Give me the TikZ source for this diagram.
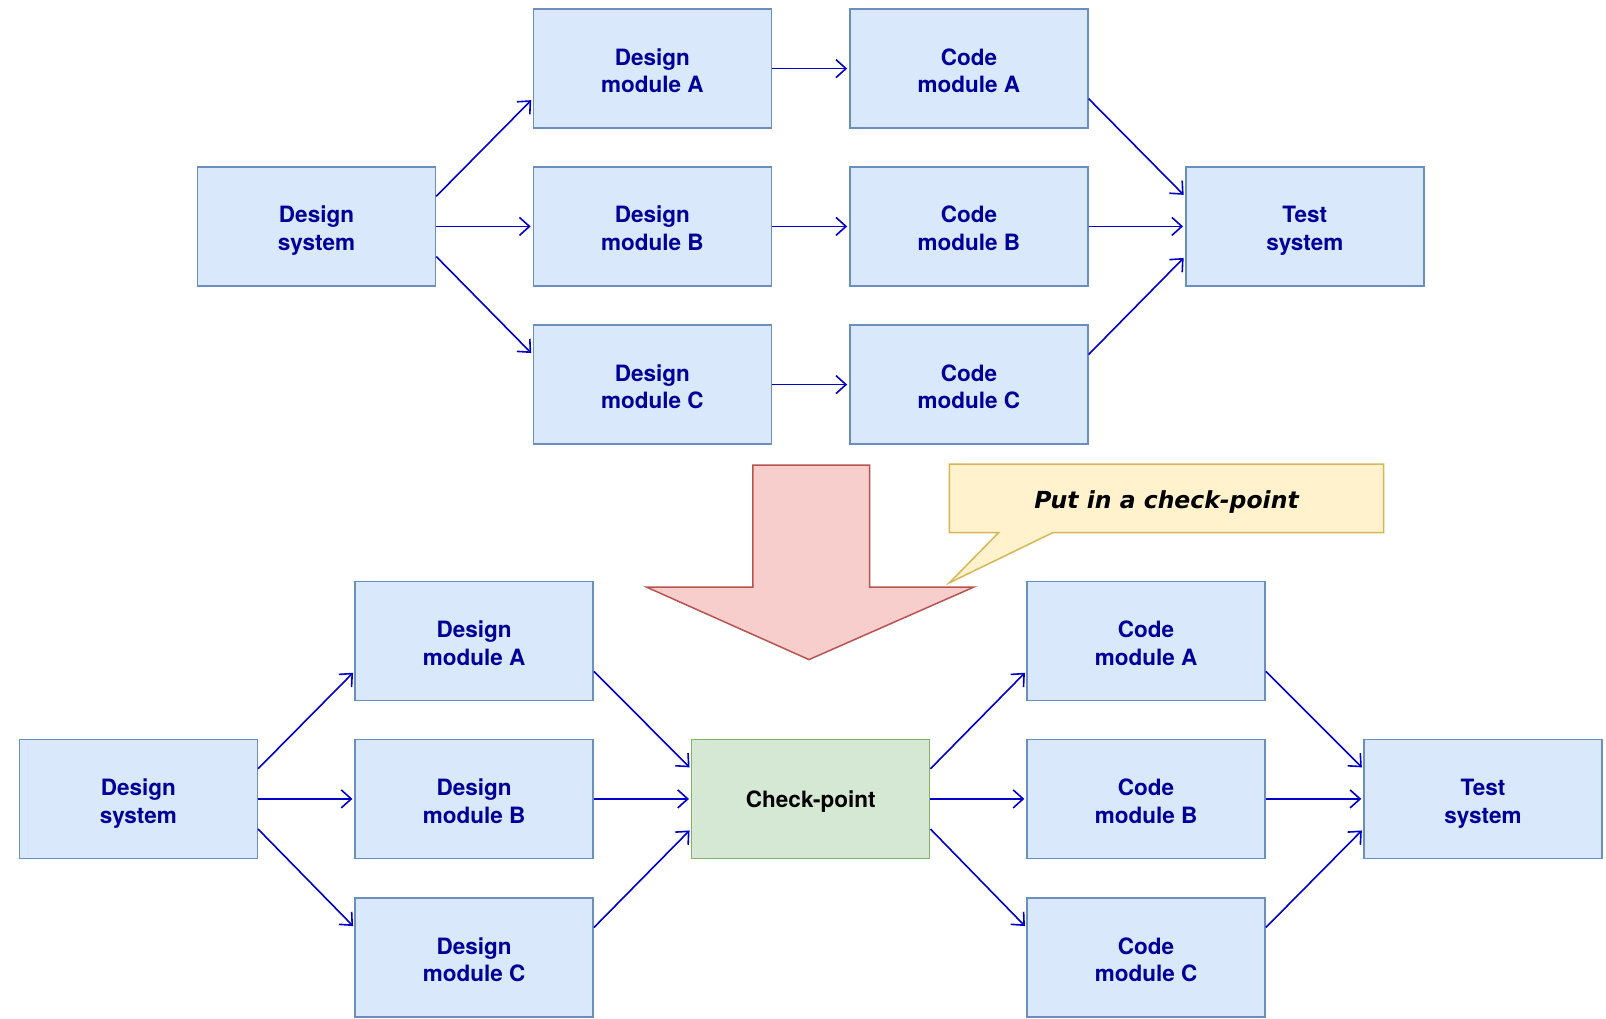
\documentclass[tikz,border=0pt]{standalone}
\usepackage{fontspec}
\setmainfont{TeX Gyre Heros}
\newfontfamily\notefont{DejaVu Sans}
\usetikzlibrary{arrows.meta,calc}
\definecolor{boxfill}{HTML}{DAE8FC}
\definecolor{boxline}{HTML}{6C8EBF}
\definecolor{boxtext}{HTML}{000099}
\definecolor{linkcol}{HTML}{0000CC}
\definecolor{cpfill}{HTML}{D5E8D4}
\definecolor{cpline}{HTML}{82B366}
\definecolor{bigfill}{HTML}{F8CECC}
\definecolor{bigline}{HTML}{B85450}
\definecolor{notefill}{HTML}{FFF2CC}
\definecolor{noteline}{HTML}{D6B656}
\tikzset{
  taskbox/.style={draw=boxline, fill=boxfill, line width=1.5pt, minimum width=238pt,
    minimum height=119pt, inner sep=0pt, align=center, text=boxtext,
    font=\fontsize{22.5}{27.6}\selectfont\bfseries},
  checkbox/.style={taskbox, draw=cpline, fill=cpfill, text=black},
  link/.style={draw=linkcol, line width=1.6pt, shorten >=2pt,
    -{Straight Barb[length=10pt,width=18pt,line width=1.6pt]}},
}
% two-line label, set a little below the middle of its box
\newcommand{\two}[2]{\raisebox{-10pt}[15pt][15pt]{\begin{tabular}{@{}c@{}}#1\\#2\end{tabular}}}
% connector ends: upper / lower quarter of a side
\newcommand{\outUp}[1]{($(#1.north east)!0.25!(#1.south east)$)}
\newcommand{\outDn}[1]{($(#1.north east)!0.75!(#1.south east)$)}
\newcommand{\inUp}[1]{($(#1.north west)!0.25!(#1.south west)$)}
\newcommand{\inDn}[1]{($(#1.north west)!0.75!(#1.south west)$)}
\begin{document}
\begin{tikzpicture}[x=1pt,y=-1pt]
\useasboundingbox (0,0) rectangle (1606,1018);

% ---- plan without check-point ----
\node[taskbox] (ds1) at (316.5,226.4) {\two{Design}{system}};
\node[taskbox] (dA1) at (652.4,68.6) {\two{Design}{module A}};
\node[taskbox] (dB1) at (652.4,226.4) {\two{Design}{module B}};
\node[taskbox] (dC1) at (652.4,384.6) {\two{Design}{module C}};
\node[taskbox] (cA1) at (968.9,68.6) {\two{Code}{module A}};
\node[taskbox] (cB1) at (968.9,226.4) {\two{Code}{module B}};
\node[taskbox] (cC1) at (968.9,384.6) {\two{Code}{module C}};
\node[taskbox] (ts1) at (1304.8,226.4) {\two{Test}{system}};

\draw[link] \outUp{ds1} -- \inDn{dA1};
\draw[link] (ds1.east) -- (dB1.west);
\draw[link] \outDn{ds1} -- \inUp{dC1};
\draw[link] (dA1.east) -- (cA1.west);
\draw[link] (dB1.east) -- (cB1.west);
\draw[link] (dC1.east) -- (cC1.west);
\draw[link] \outDn{cA1} -- \inUp{ts1};
\draw[link] (cB1.east) -- (ts1.west);
\draw[link] \outUp{cC1} -- \inDn{ts1};

% ---- big transition arrow ----
\draw[draw=bigline, fill=bigfill, line width=1.5pt, line join=miter]
  (752.8,465) -- (869.5,465) -- (869.5,587) -- (974,587) -- (809,659.6)
  -- (646.3,587) -- (752.8,587) -- cycle;

% ---- callout ----
\draw[draw=noteline, fill=notefill, line width=1.5pt]
  (949.4,464) -- (1383.7,464) -- (1383.7,532.6) -- (1052.9,532.6)
  -- (949.4,582.8) -- (998.6,532.6) -- (949.4,532.6) -- cycle;
\node[font=\notefont\fontsize{23.5}{28}\selectfont\bfseries\itshape] (note) at (1166.5,502) {Put in a check-point};

% ---- plan with check-point ----
\node[taskbox] (ds2) at (138.3,798.9) {\two{Design}{system}};
\node[taskbox] (dA2) at (474.2,641.2) {\two{Design}{module A}};
\node[taskbox] (dB2) at (474.2,798.9) {\two{Design}{module B}};
\node[taskbox] (dC2) at (474.2,957.6) {\two{Design}{module C}};
\node[checkbox] (cp) at (810.7,798.9) {\raisebox{-8.5pt}[12pt][12pt]{Check-point}};
\node[taskbox] (cA2) at (1146.1,641.2) {\two{Code}{module A}};
\node[taskbox] (cB2) at (1146.1,798.9) {\two{Code}{module B}};
\node[taskbox] (cC2) at (1146.1,957.6) {\two{Code}{module C}};
\node[taskbox] (ts2) at (1483,798.9) {\two{Test}{system}};

\draw[link] \outUp{ds2} -- \inDn{dA2};
\draw[link] (ds2.east) -- (dB2.west);
\draw[link] \outDn{ds2} -- \inUp{dC2};
\draw[link] \outDn{dA2} -- \inUp{cp};
\draw[link] (dB2.east) -- (cp.west);
\draw[link] \outUp{dC2} -- \inDn{cp};
\draw[link] \outUp{cp} -- \inDn{cA2};
\draw[link] (cp.east) -- (cB2.west);
\draw[link] \outDn{cp} -- \inUp{cC2};
\draw[link] \outDn{cA2} -- \inUp{ts2};
\draw[link] (cB2.east) -- (ts2.west);
\draw[link] \outUp{cC2} -- \inDn{ts2};
\end{tikzpicture}
\end{document}
